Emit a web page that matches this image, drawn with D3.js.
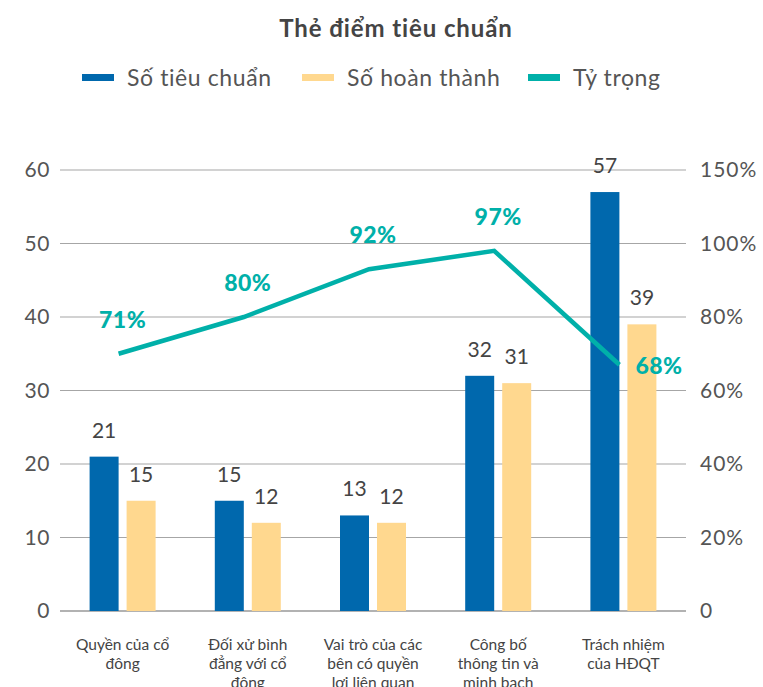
<!DOCTYPE html>
<html>
<head>
<meta charset="utf-8">
<script src="https://cdn.jsdelivr.net/npm/d3@7"></script>
<style>
  body { margin: 0; background: #fff; }
  svg text { font-family: Lato, "Noto Sans", sans-serif; }
</style>
</head>
<body>
<div id="chart"></div>
<script>
// data
const categories = [
  ["Quyền của cổ", "đông"],
  ["Đối xử bình", "đẳng với cổ", "đông"],
  ["Vai trò của các", "bên có quyền", "lợi liên quan"],
  ["Công bố", "thông tin và", "minh bạch"],
  ["Trách nhiệm", "của HĐQT"]
];
const soTieuChuan = [21, 15, 13, 32, 57];
const soHoanThanh = [15, 12, 12, 31, 39];
const tyTrong = [0.70, 0.80, 0.93, 0.98, 0.67];
const tyTrongLabels = ["71%", "80%", "92%", "97%", "68%"];
const leftTicks = [0, 10, 20, 30, 40, 50, 60];
const rightTicks = [0, 0.2, 0.4, 0.6, 0.8, 1.0, 1.2];
const rightTickLabels = ["0", "20%", "40%", "60%", "80%", "100%", "150%"];

const blue = "#0068ad", yellow = "#ffd88f", teal = "#00b0a9";

const svgWidth = 763, svgHeight = 687;
const margin = { top: 170, right: 77, bottom: 76, left: 60 };
const width = svgWidth - margin.left - margin.right;
const height = svgHeight - margin.top - margin.bottom;

const svg = d3.select('#chart').append('svg')
  .attr('width', svgWidth).attr('height', svgHeight);

svg.append('text')
  .attr('x', 396).attr('y', 37)
  .attr('text-anchor', 'middle')
  .attr('font-size', 24).attr('font-weight', 700)
  .attr('letter-spacing', 0.9)
  .attr('fill', '#444')
  .text('Thẻ điểm tiêu chuẩn');

// legend
const legendItems = [
  { label: 'Số tiêu chuẩn', color: blue, x: 82 },
  { label: 'Số hoàn thành', color: yellow, x: 302 },
  { label: 'Tỷ trọng', color: teal, x: 528 }
];
const legend = svg.append('g');
legendItems.forEach(d => {
  legend.append('rect')
    .attr('x', d.x).attr('y', 74).attr('width', 32).attr('height', 7)
    .attr('fill', d.color);
  legend.append('text')
    .attr('x', d.x + 45).attr('y', 86)
    .attr('font-size', 23).attr('letter-spacing', 0.6).attr('fill', '#555')
    .text(d.label);
});

const g = svg.append('g')
  .attr('transform', "translate(" + margin.left + "," + margin.top + ")");

const x = d3.scaleBand().domain(d3.range(categories.length)).range([0, width]);
const y = d3.scaleLinear().domain([0, 60]).range([height, 0]);
const y2 = d3.scaleLinear().domain([0, 1.2]).range([height, 0]);

// grid lines
g.selectAll('.grid').data(leftTicks.slice(1)).enter().append('line')
  .attr('x1', 0).attr('x2', width)
  .attr('y1', d => y(d)).attr('y2', d => y(d))
  .attr('stroke', '#a6a6a6').attr('stroke-width', 1.2);

g.append('line')
  .attr('x1', 0).attr('x2', width)
  .attr('y1', y(0)).attr('y2', y(0))
  .attr('stroke', '#999').attr('stroke-width', 1.5);

// left axis
const leftAxis = g.append('g')
  .call(d3.axisLeft(y).tickValues(leftTicks).tickSize(0).tickPadding(10));
leftAxis.select('.domain').remove();
leftAxis.selectAll('text').attr('font-size', 21).attr('fill', '#555')
  .attr('letter-spacing', 0.6)
  .style('font-family', 'Lato, "Noto Sans", sans-serif');

// right axis
const rightAxis = g.append('g')
  .attr('transform', "translate(" + width + ",0)")
  .call(d3.axisRight(y2).tickValues(rightTicks).tickSize(0).tickPadding(14)
    .tickFormat((d, i) => rightTickLabels[i]));
rightAxis.select('.domain').remove();
rightAxis.selectAll('text').attr('font-size', 21).attr('fill', '#555')
  .attr('letter-spacing', 1)
  .style('font-family', 'Lato, "Noto Sans", sans-serif');

// bars
const barW = 29, gap = 8;
const cx = i => x(i) + x.bandwidth() / 2;

g.selectAll('.bar1').data(soTieuChuan).enter().append('rect')
  .attr('x', (d, i) => cx(i) - gap / 2 - barW)
  .attr('y', d => y(d))
  .attr('width', barW).attr('height', d => height - y(d))
  .attr('fill', blue);

g.selectAll('.bar2').data(soHoanThanh).enter().append('rect')
  .attr('x', (d, i) => cx(i) + gap / 2)
  .attr('y', d => y(d))
  .attr('width', barW).attr('height', d => height - y(d))
  .attr('fill', yellow);

g.selectAll('.lab1').data(soTieuChuan).enter().append('text')
  .attr('x', (d, i) => cx(i) - gap / 2 - barW / 2)
  .attr('y', d => y(d) - 19)
  .attr('text-anchor', 'middle').attr('font-size', 21).attr('fill', '#444')
  .text(d => d);

g.selectAll('.lab2').data(soHoanThanh).enter().append('text')
  .attr('x', (d, i) => cx(i) + gap / 2 + barW / 2)
  .attr('y', d => y(d) - 19)
  .attr('text-anchor', 'middle').attr('font-size', 21).attr('fill', '#444')
  .text(d => d);

// line
const line = d3.line().x((d, i) => cx(i) - 4).y(d => y2(d));
g.append('path')
  .datum(tyTrong)
  .attr('fill', 'none')
  .attr('stroke', teal)
  .attr('stroke-width', 4.5)
  .attr('stroke-linejoin', 'miter')
  .attr('d', line);

const last = tyTrong.length - 1;
g.selectAll('.pct').data(tyTrong).enter().append('text')
  .attr('x', (d, i) => i === last ? cx(i) + 12 : cx(i))
  .attr('y', (d, i) => i === last ? y2(d) + 9 : y2(d) - 26)
  .attr('text-anchor', (d, i) => i === last ? 'start' : 'middle')
  .attr('font-size', 23).attr('font-weight', 900).attr('letter-spacing', 0.5)
  .attr('fill', teal)
  .text((d, i) => tyTrongLabels[i]);

// category labels
categories.forEach((lines, i) => {
  const t = g.append('text')
    .attr('x', cx(i)).attr('y', height + 39)
    .attr('text-anchor', 'middle').attr('font-size', 15.5).attr('fill', '#444');
  lines.forEach((s, j) => {
    t.append('tspan').attr('x', cx(i)).attr('dy', j === 0 ? 0 : 19).text(s);
  });
});
</script>
</body>
</html>
